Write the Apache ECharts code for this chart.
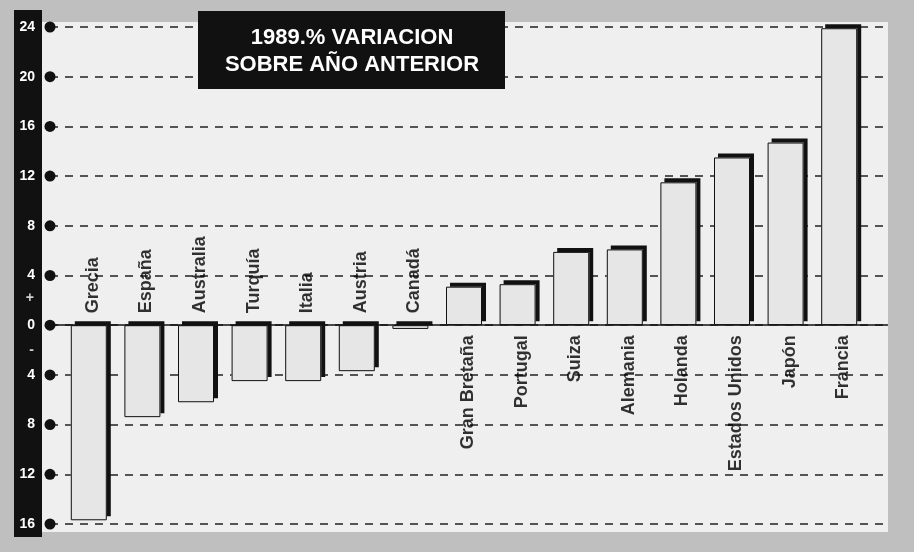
<!DOCTYPE html>
<html>
<head>
<meta charset="utf-8">
<script src="https://cdn.jsdelivr.net/npm/echarts@6/dist/echarts.min.js"></script>
<style>
  html, body { margin: 0; padding: 0; background: #bfbfbf; }
  #chart { width: 914px; height: 552px; }
</style>
</head>
<body>
<div id="chart"></div>
<script>
// datos: variacion 1989 sobre año anterior (%)
let paises = ['Grecia', 'España', 'Australia', 'Turquía', 'Italia', 'Austria', 'Canadá',
    'Gran Bretaña', 'Portugal', 'Suiza', 'Alemania', 'Holanda', 'Estados Unidos', 'Japón', 'Francia'];
let variacion = [-15.7, -7.4, -6.2, -4.5, -4.5, -3.7, -0.3, 3.1, 3.3, 5.9, 6.1, 11.5, 13.5, 14.7, 23.9];
let ticksY = [-16, -12, -8, -4, 0, 4, 8, 12, 16, 20, 24];
let signos = [['+', 2.2], ['-', -2]];

var fuente = '"Liberation Sans", Arial, sans-serif';
var chart = echarts.init(document.getElementById('chart'));

var option = {
    animation: false,
    graphic: [
        { type: 'rect', z: -10, shape: { x: 42, y: 22, width: 846, height: 510 }, style: { fill: '#efefef' } },
        { type: 'rect', z: -9, shape: { x: 14, y: 10, width: 28, height: 527 }, style: { fill: '#111' } },
        { type: 'rect', z: 100, shape: { x: 198, y: 11, width: 307, height: 78 }, style: { fill: '#111' } },
        { type: 'text', z: 101, x: 352, y: 38, style: { text: '1989.% VARIACION', fill: '#fff',
            font: 'bold 22px ' + fuente, textAlign: 'center', textVerticalAlign: 'middle' } },
        { type: 'text', z: 101, x: 352, y: 65, style: { text: 'SOBRE AÑO ANTERIOR', fill: '#fff',
            font: 'bold 22px ' + fuente, textAlign: 'center', textVerticalAlign: 'middle' } }
    ],
    grid: [
        { left: 50, right: 26, top: 27, bottom: 28 },  /* lineas y puntos */
        { left: 62, right: 48, top: 27, bottom: 28 }   /* barras */
    ],
    xAxis: [
        { gridIndex: 0, type: 'value', min: 0, max: 1, show: false },
        { gridIndex: 1, type: 'category', data: paises, show: false }
    ],
    yAxis: [
        {
            gridIndex: 0, type: 'value', min: -16, max: 24, interval: 4,
            axisLine: { show: false }, axisTick: { show: false },
            axisLabel: {
                color: '#fff', fontWeight: 'bold', fontSize: 14, fontFamily: fuente, margin: 15,
                formatter: v => Math.abs(v)
            },
            splitLine: { show: true, lineStyle: { color: '#222', width: 1.5, type: [8, 7] } }
        },
        { gridIndex: 1, type: 'value', min: -16, max: 24, interval: 4, show: false, splitLine: { show: false } }
    ],
    series: [
        {
            type: 'scatter', xAxisIndex: 0, yAxisIndex: 0, z: 5,
            data: ticksY.map(v => [0, v]),
            symbolSize: 11,
            itemStyle: { color: '#111', opacity: 1 },
            markLine: {
                silent: true, symbol: 'none', label: { show: false },
                lineStyle: { color: '#111', width: 1.5, type: 'solid' },
                data: [{ yAxis: 0 }]
            }
        },
        {
            type: 'scatter', xAxisIndex: 0, yAxisIndex: 0, z: 5,
            data: signos.map(s => ({ value: [0, s[1]], name: s[0] })),
            symbolSize: 0,
            label: {
                show: true, position: 'left', distance: 16, formatter: '{b}',
                color: '#fff', fontWeight: 'bold', fontSize: 14, fontFamily: fuente
            }
        },
        {   /* relleno con sombra */
            type: 'bar', xAxisIndex: 1, yAxisIndex: 1, z: 3,
            data: variacion,
            barWidth: 36,
            itemStyle: {
                color: '#e6e6e6', borderWidth: 0,
                shadowColor: '#111', shadowBlur: 0, shadowOffsetX: 4, shadowOffsetY: -4
            }
        },
        {   /* contorno */
            type: 'bar', xAxisIndex: 1, yAxisIndex: 1, z: 4,
            data: variacion,
            barWidth: 36, barGap: '-100%',
            itemStyle: { color: 'rgba(0,0,0,0)', borderColor: '#111', borderWidth: 1 }
        },
        {
            type: 'scatter', xAxisIndex: 1, yAxisIndex: 1, z: 6,
            symbolSize: 0,
            data: paises.map((p, i) => {
                var arriba = variacion[i] < 0;
                return {
                    value: [p, 0],
                    label: arriba
                        ? { position: 'top', distance: 12, align: 'left' }
                        : { position: 'bottom', distance: 10, align: 'right' }
                };
            }),
            label: {
                show: true, rotate: 90, verticalAlign: 'middle', offset: [0, 4],
                formatter: p => p.value[0],
                color: '#000', fontWeight: 'bold', fontSize: 18, fontFamily: fuente
            }
        }
    ]
};

chart.setOption(option);
</script>
</body>
</html>
